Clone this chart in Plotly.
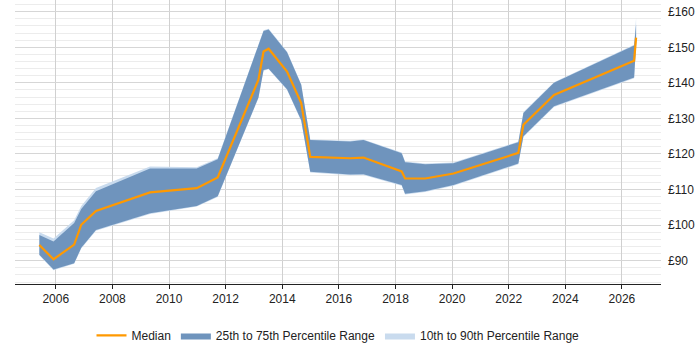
import plotly.graph_objects as go

years = [2005.42, 2005.92, 2006.65, 2006.9, 2007.42, 2009.33, 2010.98, 2011.72,
         2013.16, 2013.34, 2013.52, 2014.17, 2014.67, 2014.99, 2016.4, 2016.87,
         2018.22, 2018.34, 2019.05, 2020.05, 2022.34, 2022.52, 2023.6, 2026.43, 2026.5]

median = [94.4, 90.4, 94.5, 100.1, 104.0, 109.2, 110.4, 113.4,
          140.9, 148.8, 149.6, 143.2, 134.3, 119.2, 118.8, 119.0,
          115.1, 113.1, 113.1, 114.5, 120.3, 128.2, 136.6, 146.2, 152.7]

p75 = [97.2, 95.4, 100.6, 104.5, 109.5, 115.9, 115.9, 118.5,
       150.6, 154.6, 155.0, 148.6, 139.5, 123.9, 123.5, 123.9,
       120.2, 117.7, 117.1, 117.4, 123.3, 131.5, 140.0, 150.5, 156.5]

p25 = [91.7, 87.5, 89.3, 93.6, 98.6, 103.3, 105.4, 108.1,
       135.9, 143.6, 144.0, 138.2, 129.5, 115.0, 114.2, 114.3,
       111.3, 108.8, 109.5, 111.3, 117.3, 125.0, 133.4, 141.5, 151.0]

p90 = [98.0, 96.2, 101.4, 105.4, 110.4, 116.5, 116.3, 118.8,
       150.8, 154.8, 155.2, 148.8, 139.7, 124.1, 123.7, 124.1,
       120.4, 117.9, 117.3, 117.6, 123.5, 131.8, 140.2, 150.7, 158.3]

p10 = [91.5, 87.3, 89.1, 93.4, 98.4, 103.1, 105.2, 107.9,
       135.7, 143.4, 143.8, 138.0, 129.3, 114.8, 114.0, 114.1,
       111.1, 108.6, 109.3, 111.1, 117.1, 124.8, 133.2, 141.3, 150.2]

x_ticks = list(range(2006, 2027, 2))
y_ticks = [90, 100, 110, 120, 130, 140, 150, 160]

fig = go.Figure()

fig.add_trace(go.Scatter(
    x=years + years[::-1], y=p90 + p10[::-1],
    fill="toself", fillcolor="#c9dbee", line=dict(width=0),
    mode="lines", name="10th to 90th Percentile Range", legendrank=3,
    hoverinfo="skip"))

fig.add_trace(go.Scatter(
    x=years + years[::-1], y=p75 + p25[::-1],
    fill="toself", fillcolor="#6f94bd", line=dict(width=0),
    mode="lines", name="25th to 75th Percentile Range", legendrank=2,
    hoverinfo="skip"))

fig.add_trace(go.Scatter(
    x=years, y=median, mode="lines",
    line=dict(color="#ff9900", width=2.2),
    name="Median", legendrank=1))

fig.update_layout(
    width=700, height=350,
    margin=dict(l=15, r=39, t=0, b=58),
    paper_bgcolor="white", plot_bgcolor="white",
    font=dict(family="Liberation Sans, Arial, sans-serif", size=12, color="#222"),
    showlegend=True,
    legend=dict(orientation="h", x=0.5, xanchor="center", y=-0.13, yanchor="top",
                font=dict(size=12, color="#222"), itemwidth=30,
                traceorder="normal"),
    xaxis=dict(
        range=[2004.56, 2027.38],
        tickvals=x_ticks, ticktext=[str(v) for v in x_ticks],
        showgrid=True, gridcolor="#d0d0d0", gridwidth=1,
        showline=True, linecolor="#222", linewidth=1,
        ticks="outside", ticklen=4, tickcolor="#222",
        zeroline=False, fixedrange=True),
    yaxis=dict(
        range=[83.44, 163.3], side="right",
        tickvals=y_ticks, ticktext=["£" + str(v) for v in y_ticks],
        showgrid=True, gridcolor="#d6d6d6", gridwidth=1,
        minor=dict(dtick=2, tick0=0, showgrid=True, gridcolor="#ececec", gridwidth=1),
        showline=False, ticks="", ticklabelstandoff=6,
        zeroline=False, fixedrange=True),
)

fig.write_html("out.html")
